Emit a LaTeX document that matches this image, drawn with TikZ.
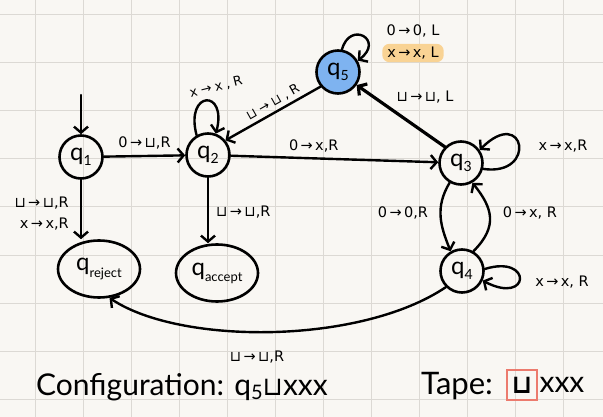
\documentclass[tikz,border=0pt]{standalone}
\usepackage{fontspec}
\setmainfont{Lato}
\newfontfamily\symf{DejaVu Sans}
\newfontfamily\symfsp[LetterSpace=28]{DejaVu Sans}
\usetikzlibrary{arrows.meta,shapes.geometric}
\definecolor{bgc}{HTML}{F9F7F3}
\definecolor{gridc}{HTML}{DCD9D4}
\definecolor{qblue}{HTML}{7EB3F0}
\definecolor{hlc}{HTML}{F9D394}
\definecolor{boxred}{HTML}{EC7B6E}
\newcommand\tmq[1]{q\raisebox{-0.45ex}{\fontsize{14}{15}\selectfont #1}}
\begin{document}
\begin{tikzpicture}[x=1pt,y=-1pt,
 st/.style={draw, line width=2.6pt, circle, minimum size=43pt, inner sep=0pt, font=\fontsize{24}{26}\selectfont},
 fin/.style={draw, line width=2.6pt, ellipse, minimum width=82pt, minimum height=57pt, inner sep=0pt, font=\fontsize{24}{26}\selectfont},
 lbl/.style={font=\symf\fontsize{14.5}{16}\selectfont, inner sep=1pt},
 rlbl/.style={font=\symfsp\fontsize{13}{15}\selectfont, inner sep=1pt},
 edge/.style={line width=2.4pt, -{Straight Barb[length=6pt,width=14pt]}, line cap=round},
 big/.style={font=\fontsize{30}{32}\selectfont, inner sep=0pt},
]
\fill[bgc] (0,0) rectangle (603,417);
\useasboundingbox (0,0) rectangle (603,417);
\foreach \x in {35,83,...,563} \draw[gridc, line width=1pt] (\x,0) -- (\x,417);
\foreach \y in {15,63,...,399} \draw[gridc, line width=1pt] (0,\y) -- (603,\y);

% states
\node[st] (q1) at (81,157) {\tmq{1}};
\node[st] (q2) at (208,155) {\tmq{2}};
\node[st] (q3) at (461,163) {\tmq{3}};
\node[st] (q4) at (462,271) {\tmq{4}};
\node[st, fill=qblue] (q5) at (338,72) {\tmq{5}};
\node[fin] (qr) at (99,269) {q\raisebox{-0.5ex}{\fontsize{13}{14}\selectfont reject}};
\node[fin] (qa) at (217,273) {q\raisebox{-0.5ex}{\fontsize{13}{14}\selectfont accept}};

% start
\coordinate (s) at (81,95);
\draw[edge] (s) -- (q1);

% q1 -> q2
\draw[edge] (q1) -- node[lbl, above=5pt] {0\,→\,⊔,R} (q2);
% q2 loop
\draw[edge] (q2.120) .. controls +(-12,-45) and +(12,-45) .. (q2.70);
\node[rlbl, rotate=14] (l22) at (216,87) {x→x,R};
% q5 -> q2
\draw[edge] (q5.220) -- node[rlbl, sloped, above=2pt, pos=0.45] {⊔→⊔,R} (q2.40);
% q2 -> q3
\draw[edge] (q2) -- node[lbl, above=4pt, pos=0.4] {0\,→\,x,R} (q3);
% q3 -> q5
\draw[edge, line width=3.2pt] (q3.135) -- (q5.-35);
\node[lbl] (l35) at (425,97) {⊔\,→\,⊔, L};
% q5 loop
\draw[edge] (q5.80) .. controls (350,20) and (385,40) .. (q5.30);
\node[lbl] (l55a) at (413,31) {0\,→\,0, L};
\node[lbl, fill=hlc, rounded corners=7pt, inner xsep=5pt, inner ysep=3pt] (l55b) at (413,53) {x\,→\,x, L};
% q3 loop
\draw[edge] (q3.-15) .. controls +(55,8) and +(45,-45) .. (q3.35);
\node[lbl] (l33) at (563,146) {x\,→\,x,R};
% q3 -> q4
\draw[edge] (q3.240) .. controls +(-15,25) and +(-10,-25) .. (q4.120);
\node[lbl] (l34) at (403,213) {0\,→\,0,R};
% q4 -> q3
\draw[edge] (q4.60) .. controls +(25,-25) and +(20,25) .. (q3.-60);
\node[lbl] (l43) at (530,213) {0\,→\,x, R};
% q4 loop
\draw[edge] (q4.5) .. controls +(48,-15) and +(48,25) .. (q4.-25);
\node[lbl] (l44) at (562,282) {x\,→\,x, R};
% q4 -> qreject
\draw[edge] (q4.225) .. controls (360,345) and (180,345) .. (qr.-70);
\node[lbl] (l4r) at (257,357) {⊔\,→\,⊔,R};
% q1 -> qreject
\draw[edge] (q1.-90) -- (q1.-90 |- qr.north);
\node[lbl, anchor=east] (l1ra) at (70,203) {⊔\,→\,⊔,R};
\node[lbl, anchor=east] (l1rb) at (70,224) {x\,→\,x,R};
% q2 -> qaccept
\draw[edge] (q2.-90) -- (q2.-90 |- qa.north);
\node[lbl, anchor=west] (l2a) at (215,212) {⊔\,→\,⊔,R};

% bottom text
\node[big, anchor=base west] (cfg) at (36,395) {Configuration: q\raisebox{-0.3ex}{\fontsize{20}{20}\selectfont 5}{\symf\fontsize{26}{28}\selectfont ⊔}xxx};
\node[big, anchor=base west, font=\fontsize{31}{33}\selectfont] (tape) at (421,394) {Tape:};
\node[draw=boxred, line width=2.8pt, minimum width=30pt, minimum height=30pt, inner sep=0pt, font=\symf\bfseries\fontsize{26}{28}\selectfont] (cell) at (522,385) {⊔};
\node[big, anchor=west] (rest) at ([xshift=1pt]cell.east) {xxx};
\end{tikzpicture}
\end{document}
